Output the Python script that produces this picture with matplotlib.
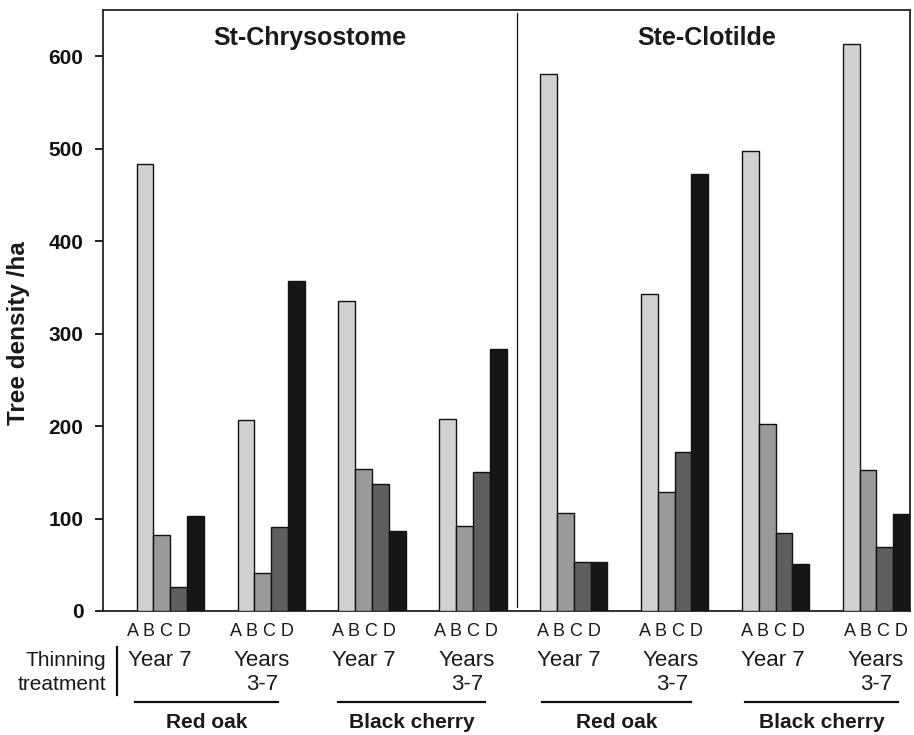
import matplotlib
matplotlib.use("Agg")
import matplotlib.pyplot as plt
from matplotlib.lines import Line2D
import matplotlib.transforms as mtransforms

plt.rcParams['font.family'] = ['Liberation Sans', 'DejaVu Sans']

# ---- data ----
sites = ["St-Chrysostome", "Ste-Clotilde"]
species = ["Red oak", "Black cherry", "Red oak", "Black cherry"]
treatments = ["Year 7", "Years\n3-7"] * 4
classes = ["A", "B", "C", "D"]
# each position: one group (site / species / thinning), values for A, B, C, D
val_A = [483, 207, 335, 208, 581, 343, 498, 613]
val_B = [82, 41, 154, 92, 106, 129, 202, 153]
val_C = [26, 91, 137, 150, 53, 172, 84, 69]
val_D = [103, 357, 86, 283, 53, 473, 51, 105]
series = [val_A, val_B, val_C, val_D]
colors = ["#d0d1d0", "#9a9a9a", "#5e5e5e", "#161616"]
yticks = [0, 100, 200, 300, 400, 500, 600]

W, H = 914, 735
fig = plt.figure(figsize=(W / 100, H / 100), dpi=100)
ax = fig.add_axes([103 / W, 1 - 611 / H, (910 - 103) / W, (611 - 10) / H])

ngroups = len(val_A)
step = 6
lefts = [2 + step * g for g in range(ngroups)]
for i, (vals, c) in enumerate(zip(series, colors)):
    xs = [l + i + 0.5 for l in lefts]
    ax.bar(xs, vals, width=1.0, color=c, edgecolor="#111111", linewidth=1.0, zorder=3)

ax.set_xlim(0, 48)
ax.set_ylim(0, 650)
ax.set_xticks([])
ax.set_yticks(yticks)
ax.set_yticklabels([str(t) for t in yticks], fontsize=15, fontweight='bold')
ax.tick_params(axis='y', direction='out', length=6, width=1.3, pad=8, colors='#111111')
for s in ax.spines.values():
    s.set_linewidth(1.3)
    s.set_color('#222222')

def fy(py):
    return 1 - py / H

fig.text(19 / W, fy(333), "Tree density /ha", rotation=90, ha='center', va='center',
         fontsize=17.5, fontweight='bold', color='#1a1a1a')

# divider between sites
ax.plot([24.6, 24.6], [4, 647], color='#111111', linewidth=0.9, zorder=4)

trans = mtransforms.blended_transform_factory(ax.transData, fig.transFigure)

# site titles
ax.text(12.3, fy(38), sites[0], transform=trans, ha='center', va='center',
        fontsize=18, fontweight='bold', color='#1a1a1a')
ax.text(35.9, fy(38), sites[1], transform=trans, ha='center', va='center',
        fontsize=18, fontweight='bold', color='#1a1a1a')

for g in range(ngroups):
    cx = lefts[g] + 2 - 0.65 + 0.085 * g
    ax.text(cx, fy(631), " ".join(classes), transform=trans, ha='center', va='center',
            fontsize=13, color='#1a1a1a')
    t = treatments[g].split("\n")
    ax.text(cx, fy(661), t[0], transform=trans, ha='center', va='center', fontsize=16, color='#1a1a1a')
    if len(t) > 1:
        ax.text(cx + 0.05, fy(685), t[1], transform=trans, ha='center', va='center', fontsize=16, color='#1a1a1a')

# species lines and labels
for k in range(4):
    g1, g2 = 2 * k, 2 * k + 1
    x0 = lefts[g1] - 0.1 + 0.1 * k
    x1 = lefts[g2] + 2.4 + 0.3 * k
    ax.add_line(Line2D([x0, x1], [fy(702), fy(702)], transform=trans, color='#111111',
                       linewidth=1.6, clip_on=False))
    ax.text((x0 + x1) / 2, fy(723), species[k], transform=trans, ha='center', va='center',
            fontsize=15, fontweight='bold', color='#1a1a1a')

fig.text(106 / W, fy(661), "Thinning", ha='right', va='center', fontsize=15, color='#1a1a1a')
fig.text(106 / W, fy(684), "treatment", ha='right', va='center', fontsize=15, color='#1a1a1a')
fig.add_artist(Line2D([117 / W, 117 / W], [fy(647), fy(695)], transform=fig.transFigure,
                      color='#111111', linewidth=1.6))

fig.savefig("out.png", dpi=100)
